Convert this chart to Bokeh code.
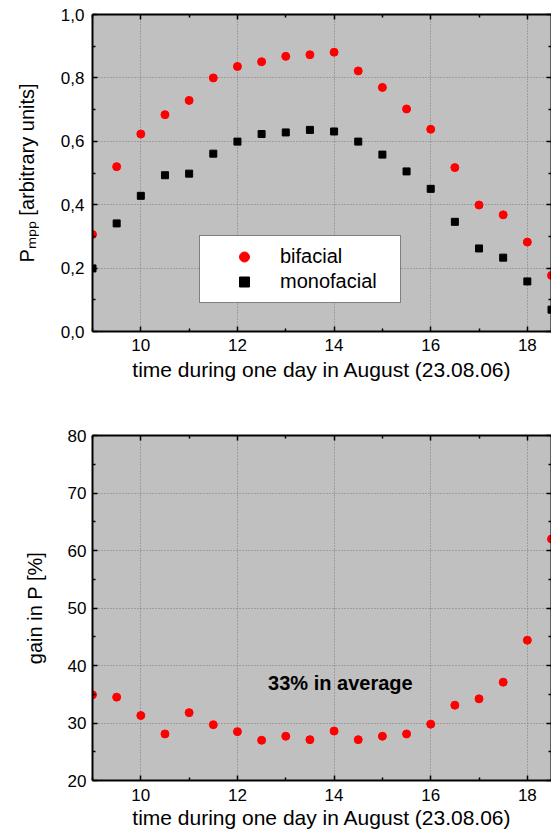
from bokeh.plotting import figure
from bokeh.models import LinearAxis, FixedTicker, Legend, LegendItem, Label, Range1d
from bokeh.layouts import column
from bokeh.embed import file_html
from bokeh.resources import INLINE

# ---------------- data ----------------
hours = [9.0, 9.5, 10.0, 10.5, 11.0, 11.5, 12.0, 12.5, 13.0, 13.5,
         14.0, 14.5, 15.0, 15.5, 16.0, 16.5, 17.0, 17.5, 18.0, 18.5]
bifacial = [0.306, 0.520, 0.623, 0.684, 0.729, 0.800, 0.836, 0.851, 0.868, 0.873,
            0.881, 0.822, 0.770, 0.702, 0.638, 0.517, 0.399, 0.368, 0.282, 0.177]
monofacial = [0.199, 0.341, 0.428, 0.493, 0.498, 0.561, 0.599, 0.623, 0.628, 0.636,
              0.631, 0.599, 0.558, 0.505, 0.450, 0.346, 0.262, 0.233, 0.158, 0.069]
gain = [34.9, 34.5, 31.3, 28.1, 31.8, 29.7, 28.5, 27.0, 27.7, 27.1,
        28.6, 27.1, 27.7, 28.1, 29.8, 33.1, 34.2, 37.1, 44.4, 62.0]

x_ticks = [10, 12, 14, 16, 18]
x_tick_labels = ["10", "12", "14", "16", "18"]
x_minor = [9, 11, 13, 15, 17]
p_ticks = [0.0, 0.2, 0.4, 0.6, 0.8, 1.0]
p_tick_labels = ["0,0", "0,2", "0,4", "0,6", "0,8", "1,0"]
p_minor = [0.1, 0.3, 0.5, 0.7, 0.9]
g_ticks = [20, 30, 40, 50, 60, 70, 80]
g_tick_labels = ["20", "30", "40", "50", "60", "70", "80"]
g_minor = [25, 35, 45, 55, 65, 75]

x_title = "time during one day in August (23.08.06)"
p_title = "P\u2098\u209a\u209a [arbitrary units]"
g_title = "gain in P [%]"
avg_note = "33% in average"
FONT = "Liberation Sans"


def style(p, xt, xl, xm, yt, yl, ym):
    p.background_fill_color = "#c0c0c0"
    p.border_fill_color = "white"
    p.outline_line_color = None
    bottom = p.below[0]
    left = p.left[0]
    xtick = FixedTicker(ticks=xt, minor_ticks=xm)
    ytick = FixedTicker(ticks=yt, minor_ticks=ym)
    top = LinearAxis()
    right = LinearAxis()
    p.add_layout(top, "above")
    p.add_layout(right, "right")
    bottom.ticker = xtick
    top.ticker = xtick
    left.ticker = ytick
    right.ticker = ytick
    bottom.major_label_overrides = dict(zip(xt, xl))
    left.major_label_overrides = dict(zip(yt, yl))
    top.major_label_overrides = {t: "" for t in xt}
    right.major_label_overrides = {t: "" for t in yt}
    for ax in [bottom, left, top, right]:
        ax.axis_line_color = "black"
        ax.axis_line_width = 2
        ax.major_tick_line_color = "black"
        ax.minor_tick_line_color = "black"
        ax.major_tick_line_width = 1.5
        ax.minor_tick_line_width = 1.5
        ax.major_tick_in = 5
        ax.major_tick_out = 0
        ax.minor_tick_in = 3
        ax.minor_tick_out = 0
        ax.major_label_text_font = FONT
        ax.major_label_text_font_size = "17px"
        ax.major_label_text_color = "black"
        ax.axis_label_text_font = FONT
        ax.axis_label_text_font_size = "20px"
        ax.axis_label_text_font_style = "normal"
        ax.axis_label_text_color = "black"
    bottom.axis_label_text_font_size = "21px"
    for ax in [top, right]:
        ax.major_label_text_font_size = "0px"
        ax.major_label_standoff = 0
    p.xgrid.ticker = xtick
    p.ygrid.ticker = ytick
    for g in [p.xgrid, p.ygrid]:
        g.grid_line_color = "#7a7a7a"
        g.grid_line_dash = "1 2"
        g.grid_line_width = 1
    return bottom, left


# ---------------- top plot ----------------
p1 = figure(width=551, height=400, output_backend="svg", toolbar_location=None,
            x_range=Range1d(9, 18.5), y_range=Range1d(0, 1.0),
            min_border_left=90, min_border_right=0, min_border_top=14, min_border_bottom=69)
b1, l1 = style(p1, x_ticks, x_tick_labels, x_minor, p_ticks, p_tick_labels, p_minor)
b1.axis_label = x_title
b1.major_label_standoff = 7
b1.axis_label_standoff = 4
l1.axis_label = p_title
l1.major_label_standoff = 8
l1.axis_label_standoff = 20

r_bi = p1.scatter(hours, bifacial, marker="circle", size=8, color="#ff0000")
r_mono = p1.scatter(hours, monofacial, marker="square", size=7, color="black")

legend = Legend(items=[LegendItem(label="bifacial", renderers=[r_bi]),
                       LegendItem(label="monofacial", renderers=[r_mono])],
                location=(107, 28), padding=8, spacing=0,
                glyph_width=72, glyph_height=25, label_height=25,
                label_standoff=0, label_width=112,
                label_text_font=FONT, label_text_font_size="20px",
                label_text_color="black",
                border_line_color="black", border_line_width=1.5,
                background_fill_color="white", background_fill_alpha=1.0)
p1.add_layout(legend)

# ---------------- bottom plot ----------------
p2 = figure(width=551, height=434, output_backend="svg", toolbar_location=None,
            x_range=Range1d(9, 18.5), y_range=Range1d(20, 80),
            min_border_left=92, min_border_right=0, min_border_top=35, min_border_bottom=54)
b2, l2 = style(p2, x_ticks, x_tick_labels, x_minor, g_ticks, g_tick_labels, g_minor)
b2.axis_label = x_title
b2.major_label_standoff = 8
b2.axis_label_standoff = 2
l2.axis_label = g_title
l2.major_label_standoff = 6
l2.axis_label_standoff = 19

p2.scatter(hours, gain, marker="circle", size=8, color="#ff0000")
p2.add_layout(Label(x=14.13, y=37.0, text=avg_note, text_font=FONT,
                    text_font_size="20px", text_font_style="bold",
                    text_align="center", text_baseline="middle", text_color="black"))

layout = column(p1, p2)
open("out.html", "w").write(file_html(layout, INLINE))
